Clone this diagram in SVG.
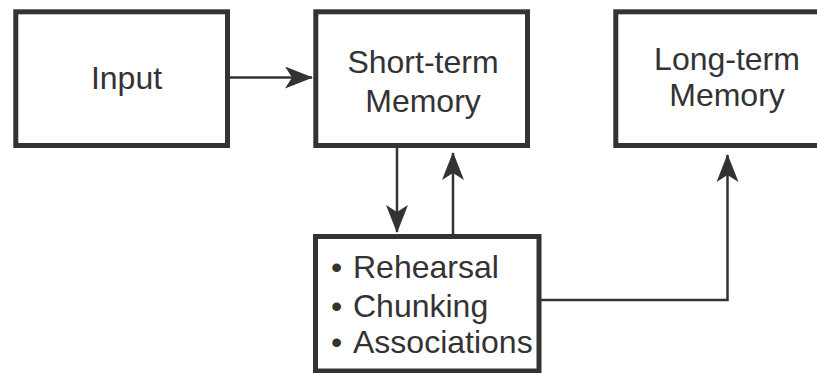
<svg xmlns="http://www.w3.org/2000/svg" width="817" height="373" viewBox="0 0 817 373">
  <defs>
    <marker id="arrow" markerUnits="userSpaceOnUse" viewBox="0 0 28 22" markerWidth="28" markerHeight="22" refX="27" refY="11" orient="auto">
      <path d="M0,0 L28,11 L0,22 L7,11 z" fill="#333"/>
    </marker>
  </defs>
  <style>
    .box { fill: #fff; stroke: #333; stroke-width: 5; }
    .lbl { font-family: "Liberation Sans", Arial, Helvetica, sans-serif; font-size: 32px; fill: #333; }
    .mid { text-anchor: middle; }
    .conn { fill: none; stroke: #333; stroke-width: 2.5; }
  </style>
  <rect width="817" height="373" fill="#fff"/>
  <g id="connectors">
    <path class="conn" d="M230,77.5 H312" marker-end="url(#arrow)"/>
    <path class="conn" d="M397,148 V232" marker-end="url(#arrow)"/>
    <path class="conn" d="M453,234 V153" marker-end="url(#arrow)"/>
    <path class="conn" d="M541,300 H727.5 V155" marker-end="url(#arrow)"/>
  </g>
  <g id="input">
    <rect class="box" x="15.8" y="11.8" width="211.7" height="133.7"/>
    <text class="lbl mid" x="126.5" y="88.5">Input</text>
  </g>
  <g id="short-term">
    <rect class="box" x="315.8" y="11.8" width="211.7" height="133.7"/>
    <text class="lbl mid" x="423" y="72.7">Short-term</text>
    <text class="lbl mid" x="423" y="111.5">Memory</text>
  </g>
  <g id="long-term">
    <rect class="box" x="615.8" y="11.8" width="230" height="133.7"/>
    <text class="lbl mid" x="727" y="69.5">Long-term</text>
    <text class="lbl mid" x="727" y="106">Memory</text>
  </g>
  <g id="strategies">
    <rect class="box" x="315.5" y="236.5" width="223.5" height="134.5"/>
    <text class="lbl" x="331" y="278">•<tspan x="353">Rehearsal</tspan></text>
    <text class="lbl" x="331" y="316.5">•<tspan x="353">Chunking</tspan></text>
    <text class="lbl" x="331" y="353">•<tspan x="353">Associations</tspan></text>
  </g>
</svg>
